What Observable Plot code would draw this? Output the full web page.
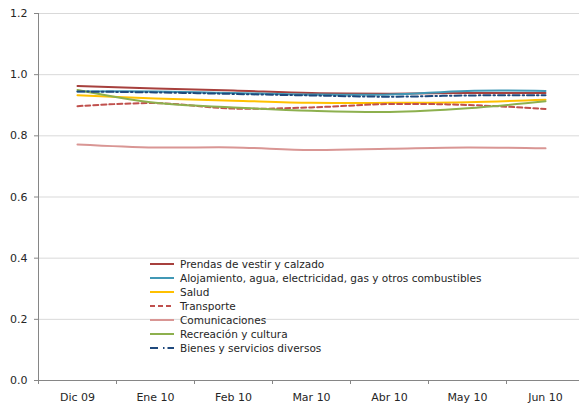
<!DOCTYPE html>
<html><head><meta charset="utf-8">
<script src="https://cdn.jsdelivr.net/npm/d3@7"></script>
<script src="https://cdn.jsdelivr.net/npm/@observablehq/plot@0.6"></script>
<style>
body{margin:0;background:#fff;font-family:"DejaVu Sans",sans-serif;}
#wrap{position:relative;width:579px;height:407px;}
#legend{position:absolute;left:150px;top:257px;font-size:10.5px;color:#262626;}
.row{display:flex;align-items:center;height:14px;white-space:nowrap;}
.row svg{width:30px;height:14px;flex:none;}
</style></head>
<body><div id="wrap"><div id="legend"></div></div>
<script>
const months = ["Dic 09","Ene 10","Feb 10","Mar 10","Abr 10","May 10","Jun 10"];
const seriesNames = ["Prendas de vestir y calzado","Alojamiento, agua, electricidad, gas y otros combustibles","Salud","Transporte","Comunicaciones","Recreación y cultura","Bienes y servicios diversos"];
const prendas =        [0.963,0.955,0.948,0.940,0.938,0.940,0.940];
const alojamiento =    [0.945,0.945,0.940,0.935,0.935,0.947,0.947];
const salud =          [0.933,0.922,0.915,0.908,0.908,0.910,0.918];
const transporte =     [0.897,0.907,0.889,0.893,0.904,0.901,0.888];
const comunicaciones = [0.772,0.762,0.762,0.754,0.758,0.762,0.759];
const recreacion =     [0.950,0.908,0.893,0.882,0.878,0.890,0.913];
const bienes =         [0.945,0.942,0.937,0.932,0.928,0.932,0.933];
const yTicks = [0,0.2,0.4,0.6,0.8,1.0,1.2];

const colors = ["#A7403D","#4198B5","#FFC000","#C0504D","#D99694","#8DB04E","#1F497D"];
const dashes = [null,null,null,"5,3",null,null,"7,3,1.5,3"];
const values = [prendas,alojamiento,salud,transporte,comunicaciones,recreacion,bienes];

const data = [];
values.forEach((arr,s)=>arr.forEach((v,i)=>data.push({s, i, v})));
const idx = months.map((m,i)=>i);
const bounds = months.map((m,i)=>i-0.5);

const marks = [
  Plot.gridY(yTicks.slice(1), {stroke:"#D9D9D9", strokeOpacity:1}),
  Plot.ruleY([0], {stroke:"#868686"}),
  Plot.ruleX([-0.5], {y1:0, y2:1.2, stroke:"#868686"}),
  Plot.axisY(yTicks, {tickSize:4, tickPadding:7, tickFormat:d3.format(".1f"), fontSize:11, stroke:"#868686", fill:"#262626", label:null}),
  Plot.axisX(idx, {tickSize:0, tickPadding:13, tickFormat:i=>months[i], fontSize:11, fill:"#262626", label:null}),
  Plot.axisX(bounds, {tickSize:4, tickFormat:()=>"", stroke:"#868686", label:null})
];
values.forEach((arr,s)=>{
  marks.push(Plot.line(data.filter(d=>d.s===s), {x:"i", y:"v", stroke:colors[s], strokeWidth:2, strokeDasharray:dashes[s], curve:"catmull-rom"}));
});

const chart = Plot.plot({
  width:579, height:407,
  marginLeft:38, marginRight:0, marginTop:13, marginBottom:27,
  style:{fontFamily:"DejaVu Sans, sans-serif", color:"#262626"},
  x:{type:"linear", domain:[-0.5,6.5], range:[38,584], axis:null, label:null},
  y:{domain:[0,1.2], axis:null, label:null},
  marks
});
document.getElementById("wrap").prepend(chart);

const leg = document.getElementById("legend");
seriesNames.forEach((n,s)=>{
  const row = document.createElement("div");
  row.className="row";
  row.innerHTML = `<svg><line x1="0" x2="24" y1="7" y2="7" stroke="${colors[s]}" stroke-width="2" ${dashes[s]?`stroke-dasharray="${s===6?'8,5,1.5,3':dashes[s]}"`:""}/></svg><span>${n}</span>`;
  leg.appendChild(row);
});
</script></body></html>
